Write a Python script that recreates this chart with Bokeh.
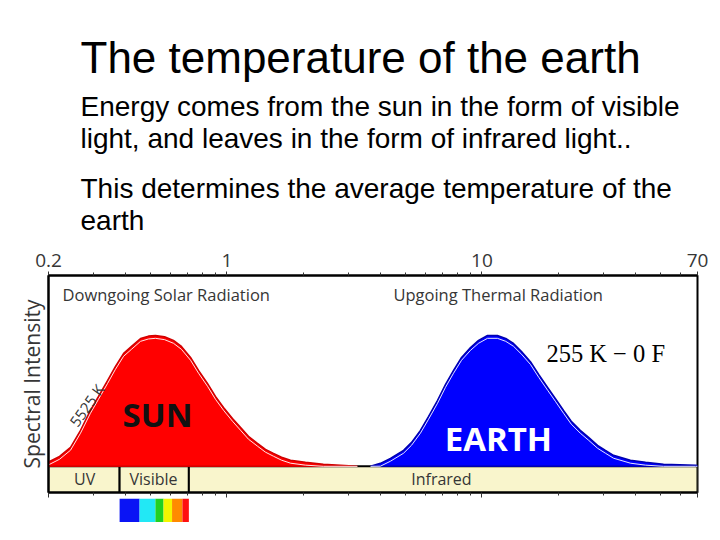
from bokeh.plotting import figure
from bokeh.models import Range1d, FixedTicker, LogAxis, CustomJSTickFormatter, LogScale
from bokeh.layouts import column
from bokeh.embed import file_html
from bokeh.resources import INLINE
from bokeh.core.properties import value

# ---------------- data ----------------
title_text = "The temperature of the earth"
body_lines = [
    "Energy comes from the sun in the form of visible",
    "light, and leaves in the form of infrared light..",
    "This determines the average temperature of the",
    "earth",
]

# wavelength (micrometres) and relative spectral intensity
sun_wl = [0.200, 0.221, 0.244, 0.267, 0.292, 0.314, 0.341, 0.366, 0.394, 0.423, 0.459,
          0.493, 0.525, 0.570, 0.618, 0.664, 0.721, 0.775, 0.840, 0.903, 0.971, 1.053,
          1.131, 1.216, 1.319, 1.418, 1.524, 1.639, 1.777, 2.034, 2.39, 3.25]
sun_int = [0.033, 0.076, 0.145, 0.275, 0.427, 0.534, 0.656, 0.763, 0.863, 0.916, 0.977,
           0.995, 1.0, 0.99, 0.962, 0.916, 0.832, 0.733, 0.634, 0.534, 0.450, 0.366,
           0.298, 0.229, 0.176, 0.130, 0.099, 0.069, 0.046, 0.031, 0.015, 0.0]

earth_wl = [3.66, 4.00, 4.38, 4.93, 5.30, 5.74, 6.18, 6.70, 7.20, 7.74, 8.32, 9.02, 9.70,
            10.52, 11.5, 12.4, 13.3, 14.3, 15.5, 16.7, 18.1, 19.4, 20.9, 22.4, 24.3, 26.2,
            28.4, 30.5, 32.8, 38.2, 43.8, 51.5, 68.8, 70.0]
earth_int = [0.0, 0.023, 0.061, 0.122, 0.183, 0.275, 0.382, 0.504, 0.626, 0.733, 0.832,
             0.908, 0.962, 1.0, 1.0, 0.977, 0.939, 0.878, 0.80, 0.702, 0.603, 0.519, 0.427,
             0.344, 0.275, 0.221, 0.160, 0.122, 0.084, 0.046, 0.031, 0.015, 0.008, 0.006]

band_names = ["UV", "Visible", "Infrared"]
band_left = [0.2, 0.38, 0.71]
band_right = [0.38, 0.71, 70.0]
band_label_x = [0.277, 0.516, 6.94]

rainbow_edges = [0.38, 0.455, 0.525, 0.565, 0.61, 0.67, 0.71]
rainbow_colors = ["#0a14f5", "#22e8f5", "#22d022", "#f5f500", "#ff8a00", "#ff1010"]

major_ticks = [0.2, 1, 10, 70]
minor_ticks = [0.3, 0.4, 0.5, 0.6, 0.7, 0.8, 0.9, 2, 3, 4, 5, 6, 7, 8, 9,
               20, 30, 40, 50, 60]

W = 708
BL, BR = 48, 11          # left / right borders so the frame spans x = 48 .. 697
CHART_FONT = value("Open Sans")
GREY = "#363636"

# ---------------- header text ----------------
HDR_H = 243
hdr = figure(width=W, height=HDR_H, title=None, x_range=Range1d(BL, W - BR),
             y_range=Range1d(HDR_H, 0), toolbar_location=None, output_backend="svg",
             x_axis_location=None, y_axis_location=None, min_border_left=BL,
             min_border_right=BR, min_border_top=0, min_border_bottom=0,
             outline_line_color=None)
hdr.grid.visible = False
hdr.text(x=[80], y=[57], text=[title_text], text_font=value("Liberation Sans"),
         text_font_size="44px", text_color="black", text_baseline="middle")
hdr.text(x=[80] * 4, y=[106, 138, 188, 220], text=body_lines,
         text_font=value("Liberation Sans"), text_font_size="28px", text_color="black",
         text_baseline="middle")

# ---------------- main chart ----------------
xr = Range1d(0.2, 70)
p = figure(width=W, height=255, title=None, x_axis_type="log", x_range=xr,
           y_range=Range1d(-0.2, 1.458), x_axis_location="above", toolbar_location=None,
           output_backend="svg", min_border_left=BL, min_border_right=BR,
           min_border_top=32, min_border_bottom=6)
p.grid.visible = False
p.outline_line_color = "black"
p.outline_line_width = 2
p.background_fill_color = "white"

top = p.xaxis[0]
top.ticker = FixedTicker(ticks=major_ticks, minor_ticks=minor_ticks)
top.formatter = CustomJSTickFormatter(code="return tick.toString();")
top.major_label_text_font = "Open Sans"
top.major_label_text_font_size = "19px"
top.major_label_text_color = GREY
top.major_label_standoff = 5
top.major_tick_out = 4
top.major_tick_in = 0
top.minor_tick_out = 3
top.minor_tick_in = 0
top.axis_line_color = "black"
top.axis_line_width = 2
top.major_tick_line_color = "#333333"
top.minor_tick_line_color = "#333333"

bottom = LogAxis(ticker=FixedTicker(ticks=major_ticks, minor_ticks=minor_ticks),
                 formatter=CustomJSTickFormatter(code="return '';"),
                 major_label_text_font_size="0px", major_label_standoff=0,
                 major_tick_out=5, major_tick_in=0, minor_tick_out=3, minor_tick_in=0,
                 axis_line_color="black", axis_line_width=2,
                 major_tick_line_color="#333333", minor_tick_line_color="#333333")
p.add_layout(bottom, "below")

ya = p.yaxis[0]
ya.ticker = FixedTicker(ticks=[])
ya.major_tick_line_color = None
ya.minor_tick_line_color = None
ya.major_label_text_font_size = "0px"
ya.major_label_standoff = 0
ya.axis_label = "Spectral Intensity"
ya.axis_label_text_font = "Open Sans"
ya.axis_label_text_font_size = "21px"
ya.axis_label_text_font_style = "normal"
ya.axis_label_text_color = GREY
ya.axis_label_standoff = 3
ya.axis_line_color = "black"
ya.axis_line_width = 2

# wavelength band strip
p.quad(left=band_left, right=band_right, bottom=-0.2, top=0.0,
       fill_color="#f9f5cc", line_color="black", line_width=2)
p.text(x=band_label_x, y=[-0.1] * 3, text=band_names, text_font=CHART_FONT,
       text_font_size="16px", text_color=GREY, text_align="center", text_baseline="middle")

# sun curve
sun_px = sun_wl + [sun_wl[-1], sun_wl[0]]
sun_py = sun_int + [0.0, 0.0]
p.patch(sun_px, sun_py, fill_color="#ff0000", line_color="#d00000", line_width=1.5)
p.line(sun_wl, [max(v - 0.022, 0.0) for v in sun_int], line_color="white", line_width=1,
       line_alpha=0.9)

# earth curve
earth_px = earth_wl + [earth_wl[-1], earth_wl[0]]
earth_py = earth_int + [0.0, 0.0]
p.patch(earth_px, earth_py, fill_color="#0000ff", line_color="#0000b0", line_width=1.5)
p.line(earth_wl, [max(v - 0.022, 0.0) for v in earth_int], line_color="white",
       line_width=1, line_alpha=0.9)

# annotations
p.text(x=[0.227, 4.50], y=[1.313, 1.313],
       text=["Downgoing Solar Radiation", "Upgoing Thermal Radiation"],
       text_font=CHART_FONT, text_font_size="16.5px", text_color=GREY,
       text_baseline="middle", text_align="left")
p.text(x=[17.9], y=[0.863], text=["255 K \u2212 0 F"], text_font=value("Liberation Serif"),
       text_font_size="24.5px", text_color="black", text_baseline="middle")
p.text(x=[0.535], y=[0.397], text=["SUN"], text_font=CHART_FONT, text_font_size="33px",
       text_font_style="bold", text_color="#111111", text_align="center",
       text_baseline="middle")
p.text(x=[11.6], y=[0.214], text=["EARTH"], text_font=CHART_FONT, text_font_size="33px",
       text_font_style="bold", text_color="white", text_align="center",
       text_baseline="middle")
p.text(x=[0.282], y=[0.466], text=["5525 K"], text_font=CHART_FONT, text_font_size="15px",
       text_color=GREY, text_align="center", text_baseline="middle", angle=0.95)

# ---------------- visible spectrum strip ----------------
rb = figure(width=W, height=24, title=None, x_range=xr, y_range=Range1d(0, 1),
            toolbar_location=None, output_backend="svg", x_axis_location=None,
            y_axis_location=None, min_border_left=BL, min_border_right=BR,
            min_border_top=0, min_border_bottom=0, outline_line_color=None)
rb.x_scale = LogScale()
rb.grid.visible = False
rb.quad(left=rainbow_edges[:-1], right=rainbow_edges[1:], bottom=0, top=1,
        fill_color=rainbow_colors, line_color=None)

layout = column(hdr, p, rb)
open("out.html", "w").write(file_html(layout, INLINE))
